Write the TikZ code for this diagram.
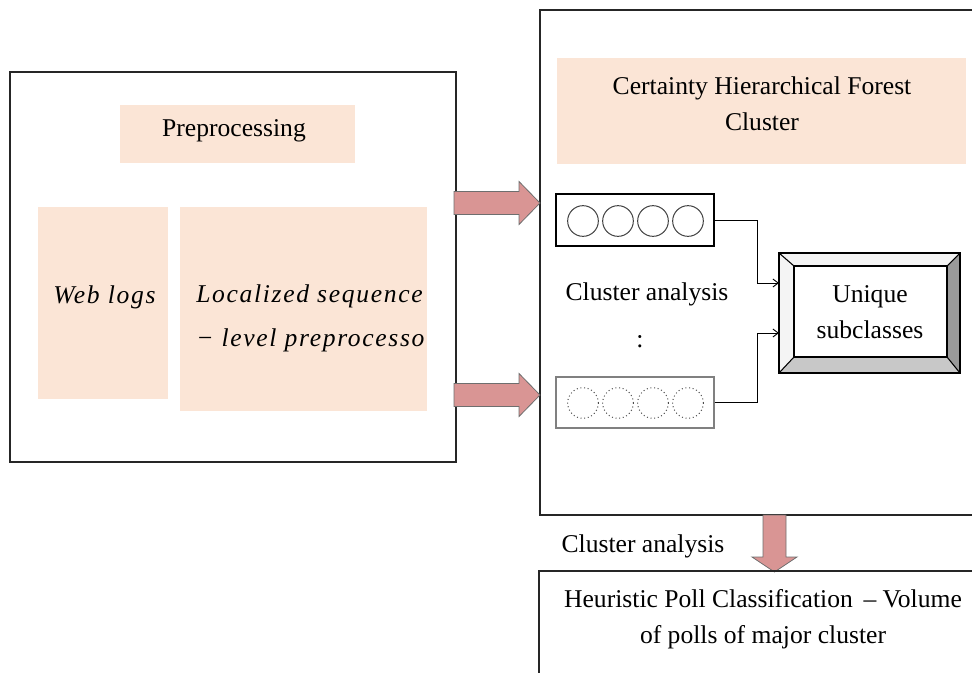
\documentclass[tikz,border=0pt]{standalone}
\usepackage{fontspec}
\setmainfont{Liberation Serif}
\newfontfamily\eqfont[LetterSpace=6.5]{Liberation Serif}
\usetikzlibrary{arrows.meta,calc}

\definecolor{peach}{HTML}{FBE5D6}
\definecolor{arrowred}{HTML}{D99594}
\definecolor{arrowedge}{HTML}{6E6E6E}
\definecolor{bevelhi}{HTML}{F4F4F4}
\definecolor{bevelmid}{HTML}{C8C8C8}
\definecolor{beveldark}{HTML}{9A9A9A}

\tikzset{
  frame/.style={draw=black!85, line width=1.1pt},
  shade box/.style={fill=peach, draw=none, inner sep=0pt},
  label text/.style={inner sep=0pt, font=\fontsize{19.2}{27}\selectfont, text=black},
  eq text/.style={inner sep=0pt, font=\fontsize{19.2}{33}\selectfont\eqfont\itshape, text=black},
  cell/.style={draw=black, line width=0.8pt, inner sep=0pt, minimum width=118.5pt},
  ring/.style={circle, draw=black!75, line width=0.75pt, inner sep=0pt, minimum size=23pt},
  dotring/.style={circle, draw=black!70, line width=0.75pt, dotted, inner sep=0pt, minimum size=23pt},
  conn/.style={draw=black, line width=0.7pt, -{Straight Barb[length=4pt,width=6pt]}},
  blockarrow/.style={fill=arrowred, draw=arrowedge, line width=0.6pt, line join=miter},
}

\begin{document}
\begin{tikzpicture}[x=0.75pt,y=-0.75pt]
\useasboundingbox (0,0) rectangle (972,672);

% ---------- preprocessing block ----------
\node[frame, minimum width=334.5pt, minimum height=292.5pt, inner sep=0pt] (pre) at (233,267) {};
\node[shade box, minimum width=176.25pt, minimum height=43.5pt] (prehead) at (237.5,134) {};
\node[label text] (pretitle) at (234,131) {Preprocessing};
\node[shade box, minimum width=97.5pt, minimum height=144pt] (weblogs) at (103,303) {};
\node[eq text, anchor=west] (weblogstext) at (53,297) {Web logs};
\node[shade box, minimum width=185.25pt, minimum height=153pt] (local) at (303.5,309) {};
\node[eq text, anchor=west, align=left] (localtext) at (196,318)
  {Localized sequence\\ − level preprocesso};

% ---------- clustering block ----------
\coordinate (cltl) at (540,10);
\coordinate (clbl) at (540,515);
\draw[frame] (975,10) -- (cltl) -- (clbl) -- (975,515);
\node[shade box, minimum width=306.75pt, minimum height=79.5pt] (clhead) at (761.5,111) {};
\node[label text, align=center] (cltitle) at (762,104)
  {Certainty Hierarchical Forest\\Cluster};

\node[cell, minimum height=39pt] (ctop) at (635,220) {};
\foreach \i/\x in {1/583,2/618,3/653,4/688}
  \node[ring] (rt\i) at (\x,221) {};

\node[label text] (ca) at (647,294) {Cluster analysis};
\node[label text] (dots) at (640,342) {:};

\node[cell, draw=black!50, minimum height=38.25pt] (cbot) at (635,402.5) {};
\foreach \i/\x in {1/583,2/618,3/653,4/688}
  \node[dotring] (rb\i) at (\x,403) {};

% bevelled result box
\coordinate (o1) at (779,253); \coordinate (o2) at (960,253);
\coordinate (o3) at (960,373); \coordinate (o4) at (779,373);
\coordinate (i1) at (794,266); \coordinate (i2) at (947,266);
\coordinate (i3) at (947,357); \coordinate (i4) at (794,357);
\fill[bevelhi] (o1) -- (o2) -- (i2) -- (i1) -- cycle;
\fill[bevelhi] (o1) -- (i1) -- (i4) -- (o4) -- cycle;
\fill[beveldark] (o2) -- (o3) -- (i3) -- (i2) -- cycle;
\fill[bevelmid] (o4) -- (o3) -- (i3) -- (i4) -- cycle;
\draw[black, line width=0.8pt] (o1) -- (i1) (o2) -- (i2) (o3) -- (i3) (o4) -- (i4);
\draw[black, line width=0.8pt] (i1) rectangle (i3);
\node[draw=black, line width=1pt, minimum width=135.75pt, minimum height=90pt, inner sep=0pt] (uniq) at (869.5,313) {};
\node[label text, align=center] (uniqtext) at (870,312) {Unique\\subclasses};

\coordinate (in1) at (779,283);
\coordinate (in2) at (779,333);
\draw[conn] (ctop.east) -- ++(43,0) |- (in1);
\draw[conn] (cbot.east) -- ++(43,0) |- (in2);

% block arrows into the clustering block
\foreach \yc in {203,395}
  \draw[blockarrow] (454,\yc-11.5) -- (519,\yc-11.5) -- (519,\yc-21.5) -- (540,\yc)
    -- (519,\yc+21.5) -- (519,\yc+11.5) -- (454,\yc+11.5) -- cycle;

% ---------- classification block ----------
\draw[blockarrow] (763,515) -- (786,515) -- (786,557) -- (797,557) -- (774.5,572)
  -- (752,557) -- (763,557) -- cycle;
\node[label text] (ca2) at (643,546) {Cluster analysis};

\coordinate (hptl) at (539,571);
\draw[frame] (975,571) -- (hptl) -- (539,675);
\node[label text, align=center] (hptext) at (763,619)
  {Heuristic Poll Classification \,– Volume\\of polls of major cluster};
\end{tikzpicture}
\end{document}
